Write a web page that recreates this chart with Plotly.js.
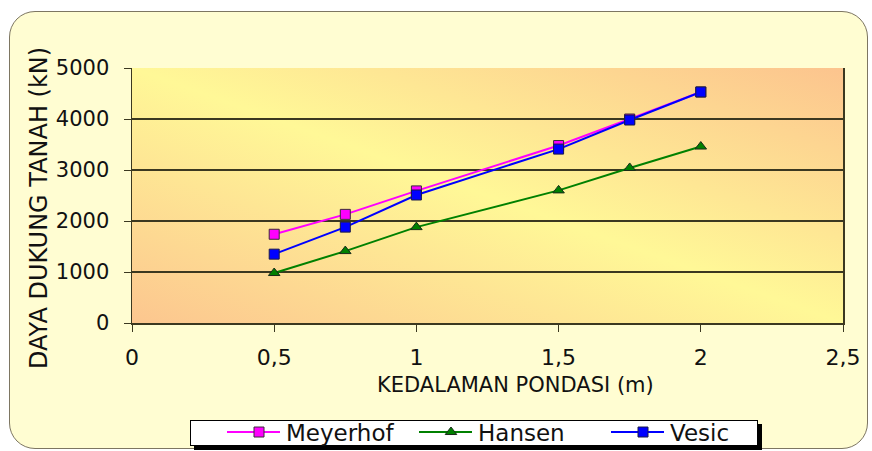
<!DOCTYPE html>
<html>
<head>
<meta charset="utf-8">
<script src="https://cdn.plot.ly/plotly-3.0.1.min.js"></script>
<style>
  html, body { margin:0; padding:0; background:#ffffff; width:872px; height:451px; overflow:hidden; }
  #frame { position:absolute; left:9px; top:11px; width:857px; height:436px; border:1.5px solid #7d7662; border-radius:26px; background:#FFFDD2; }
  #plotbg { position:absolute; left:132px; top:68px; width:711px; height:255px;
    background: linear-gradient(to top right, #FCC68F 0%, #FFF897 50%, #FCC48E 100%); }
  #chart { position:absolute; left:0; top:0; width:872px; height:451px; }
</style>
</head>
<body>
<div id="frame"></div>
<div id="plotbg"></div>
<div id="chart"></div>
<script>
const depths = [0.5, 0.75, 1, 1.5, 1.75, 2];
const meyerhof = [1740, 2130, 2590, 3480, 4000, 4530];
const hansen = [980, 1410, 1880, 2600, 3040, 3460];
const vesic = [1350, 1880, 2510, 3410, 3980, 4530];
const seriesNames = ["Meyerhof", "Hansen", "Vesic"];
const xTitle = "KEDALAMAN PONDASI (m)";
const yTitle = "DAYA DUKUNG TANAH (kN)";

const font = "DejaVu Sans, Arial, sans-serif";
const traces = [
  { x: depths, y: meyerhof, name: seriesNames[0], mode: "lines+markers", type: "scatter",
    line: { color: "#FF00FF", width: 2 },
    marker: { symbol: "square", size: 10, color: "#FF00FF", line: { color: "#3a2a3a", width: 1 } } },
  { x: depths, y: hansen, name: seriesNames[1], mode: "lines+markers", type: "scatter",
    line: { color: "#008000", width: 2 },
    marker: { symbol: "triangle-up", size: 10, color: "#008000", line: { color: "#1a2a1a", width: 1 } } },
  { x: depths, y: vesic, name: seriesNames[2], mode: "lines+markers", type: "scatter",
    line: { color: "#0000FF", width: 2 },
    marker: { symbol: "square", size: 10, color: "#0000FF", line: { color: "#1a1a4a", width: 1 } } }
];

const layout = {
  width: 872, height: 451,
  margin: { l: 132, r: 29, t: 68, b: 128, autoexpand: false },
  paper_bgcolor: "rgba(0,0,0,0)",
  plot_bgcolor: "rgba(0,0,0,0)",
  separators: ",.",
  font: { family: font, size: 20, color: "#111" },
  showlegend: true,
  legend: {
    orientation: "h",
    xref: "container", x: 215 / 872, xanchor: "left",
    yref: "container", y: 1 - 430 / 451, yanchor: "middle",
    bgcolor: "#ffffff", bordercolor: "#000", borderwidth: 1,
    font: { family: font, size: 23, color: "#111" },
    entrywidth: 117, entrywidthmode: "pixels",
    itemwidth: 60
  },
  xaxis: {
    range: [0, 2.5], dtick: 0.5, tick0: 0,
    showgrid: false, zeroline: false,
    showline: true, linecolor: "#3b3820", linewidth: 1.5,
    ticks: "outside", ticklen: 7, tickcolor: "#3b3820",
    ticklabelstandoff: 7,
    tickfont: { family: font, size: 22, color: "#111" },
    fixedrange: true
  },
  yaxis: {
    range: [0, 5000], dtick: 1000, tick0: 0,
    showgrid: true, gridcolor: "#3b3820", gridwidth: 1.5, zeroline: false,
    showline: true, linecolor: "#3b3820", linewidth: 1.5, mirror: true,
    ticks: "outside", ticklen: 7, tickcolor: "#3b3820",
    ticklabelstandoff: 10,
    tickfont: { family: font, size: 21, color: "#111" },
    fixedrange: true
  },
  annotations: [
    { text: xTitle, xref: "paper", yref: "paper", x: (515 - 132) / 711, y: (323 - 385) / 255,
      xanchor: "center", yanchor: "middle", showarrow: false,
      font: { family: font, size: 21, color: "#111" } },
    { text: yTitle, xref: "paper", yref: "paper", x: (39 - 132) / 711, y: (323 - 208) / 255,
      xanchor: "center", yanchor: "middle", showarrow: false, textangle: -90,
      font: { family: font, size: 24, color: "#111" } }
  ]
};

function styleLegend(gd) {
  const leg = gd.querySelector("g.legend");
  if (!leg) return;
  leg.querySelectorAll(".legendlines path").forEach(function (p) {
    p.setAttribute("d", "M11,0h53");
  });
  leg.querySelectorAll(".legendpoints").forEach(function (g) {
    const t = g.getAttribute("transform") || "";
    g.setAttribute("transform", (t + " translate(8,0)").trim());
  });
  const txt = leg.querySelector("text.legendtext");
  const m = /translate\(\s*([-\d.]+)[ ,]+([-\d.]+)\s*\)/.exec(leg.getAttribute("transform") || "");
  let tx = m ? parseFloat(m[1]) : 0, ty = m ? parseFloat(m[2]) : 0;
  if (txt) {
    const r = txt.getBoundingClientRect();
    const cy = (r.top + r.bottom) / 2;
    ty += 433 - cy;
    leg.setAttribute("transform", "translate(" + tx + "," + ty + ")");
  }
  const bg = leg.querySelector("rect.bg");
  if (bg) {
    bg.setAttribute("x", 190 - tx);
    bg.setAttribute("y", 420 - ty);
    bg.setAttribute("width", 567);
    bg.setAttribute("height", 25);
    const shadow = bg.cloneNode(false);
    shadow.setAttribute("class", "legshadow");
    shadow.style.fill = "#000";
    shadow.style.stroke = "#000";
    shadow.setAttribute("transform", "translate(4,4)");
    bg.parentNode.insertBefore(shadow, bg);
  }
}

Plotly.newPlot("chart", traces, layout, { displayModeBar: false, staticPlot: true }).then(styleLegend);
</script>
</body>
</html>
